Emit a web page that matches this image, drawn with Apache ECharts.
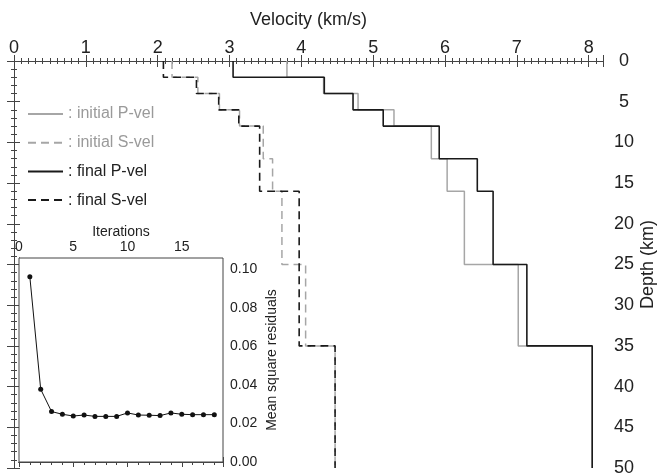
<!DOCTYPE html>
<html>
<head>
<meta charset="utf-8">
<script src="https://cdn.jsdelivr.net/npm/echarts@6/dist/echarts.min.js"></script>
<style>
  html, body { margin: 0; padding: 0; background: #fff; }
  #chart { width: 662px; height: 476px; }
</style>
</head>
<body>
<div id="chart"></div>
<script>
// layer boundaries, km
var depthBounds = [0, 2, 4, 6, 8, 12, 16, 25, 35, 50];
// velocity of each layer, km/s
var initialP = [3.80, 4.31, 4.79, 5.29, 5.81, 6.03, 6.27, 7.02, 8.05];
var finalP = [3.05, 4.32, 4.72, 5.14, 5.92, 6.45, 6.67, 7.14, 8.05];
var initialS = [2.20, 2.56, 2.86, 3.14, 3.47, 3.60, 3.73, 4.06, 4.47];
var finalS = [2.08, 2.54, 2.85, 3.13, 3.42, 3.42, 3.97, 3.97, 4.47];

// inset: misfit per iteration
var iterations = [1, 2, 3, 4, 5, 6, 7, 8, 9, 10, 11, 12, 13, 14, 15, 16, 17, 18];
var residuals = [0.0962, 0.0378, 0.0262, 0.0248, 0.0239, 0.0244, 0.0237, 0.0237, 0.0237,
  0.0255, 0.0244, 0.0243, 0.0241, 0.0255, 0.0248, 0.0246, 0.0246, 0.0246];

var legendNames = ['initial P-vel', 'initial S-vel', 'final P-vel', 'final S-vel'];

var font = 'Liberation Sans, Arial, Helvetica, sans-serif';
var axisColor = '#444';
var gray = '#a6a6a6';
var black = '#1a1a1a';

function profile(vel) {
  var pts = [];
  for (var i = 0; i < vel.length; i++) {
    pts.push([vel[i], depthBounds[i]]);
    pts.push([vel[i], depthBounds[i + 1]]);
  }
  return pts;
}

// plain value axis, only ticks unless overridden
function axis(grid, pos, min, max, interval, tickLen, extra) {
  var a = {
    type: 'value',
    gridIndex: grid,
    position: pos,
    min: min,
    max: max,
    interval: interval,
    splitLine: {show: false},
    axisLine: {show: true, lineStyle: {color: axisColor, width: 1}},
    axisTick: {show: true, inside: true, length: tickLen, lineStyle: {color: axisColor, width: 1}},
    axisLabel: {show: false}
  };
  return Object.assign(a, extra || {});
}

var chart = echarts.init(document.getElementById('chart'));

var option = {
  animation: false,
  backgroundColor: '#fff',
  textStyle: {fontFamily: font},
  grid: [
    {left: 14, right: 59, top: 61, bottom: 8, outerBoundsMode: 'none', containLabel: false},
    {left: 19, right: 439, top: 258, bottom: 14, show: true, backgroundColor: '#fff',
      borderColor: axisColor, borderWidth: 1, z: 3, outerBoundsMode: 'none', containLabel: false}
  ],
  legend: {
    orient: 'vertical',
    left: 22,
    top: 101,
    itemWidth: 35,
    itemHeight: 16,
    itemGap: 12.7,
    itemStyle: {opacity: 0},
    formatter: function (n) { return ': ' + n; },
    textStyle: {fontSize: 16, fontFamily: font},
    data: [
      {name: legendNames[0], textStyle: {color: '#9a9a9a'}},
      {name: legendNames[1], textStyle: {color: '#9a9a9a'}},
      {name: legendNames[2], textStyle: {color: '#222'}},
      {name: legendNames[3], textStyle: {color: '#222'}}
    ]
  },
  xAxis: [
    axis(0, 'top', 0, 8.2, 1, 6, {
      name: 'Velocity (km/s)', nameLocation: 'middle', nameGap: 32,
      nameTextStyle: {fontSize: 18, color: '#222', fontFamily: font},
      axisLabel: {show: true, fontSize: 18, color: '#222', margin: 4, fontFamily: font,
        formatter: function (v) { return Math.abs(v - Math.round(v)) < 1e-6 ? String(Math.round(v)) : ''; }}
    }),
    axis(0, 'top', 0, 8.2, 0.1, 3),
    axis(0, 'bottom', 0, 8.2, 1, 6),
    axis(0, 'bottom', 0, 8.2, 0.1, 3),
    axis(1, 'top', 0, 18.8, 5, 5, {
      name: 'Iterations', nameLocation: 'middle', nameGap: 19,
      nameTextStyle: {fontSize: 14, color: '#222', fontFamily: font},
      axisLabel: {show: true, fontSize: 14, color: '#222', margin: 4, fontFamily: font,
        formatter: function (v) { return v % 5 === 0 ? String(v) : ''; }}
    }),
    axis(1, 'top', 0, 18.8, 1, 3),
    axis(1, 'bottom', 0, 18.8, 5, 5),
    axis(1, 'bottom', 0, 18.8, 1, 3)
  ],
  yAxis: [
    axis(0, 'right', 0, 50, 5, 7, {
      inverse: true,
      name: 'Depth (km)', nameLocation: 'middle', nameGap: 36, nameRotate: 90,
      nameMoveOverlap: false,
      nameTextStyle: {fontSize: 18, color: '#222', fontFamily: font},
      axisLabel: {show: true, fontSize: 18, color: '#222', margin: 21, align: 'center', fontFamily: font}
    }),
    axis(0, 'right', 0, 50, 1, 3, {inverse: true}),
    axis(0, 'left', 0, 50, 5, 6, {inverse: true}),
    axis(0, 'left', 0, 50, 1, 3, {inverse: true}),
    axis(1, 'right', 0, 0.106, 0.02, 5, {
      name: 'Mean square residuals', nameLocation: 'middle', nameGap: 42, nameRotate: 90,
      nameTextStyle: {fontSize: 14, color: '#222', fontFamily: font},
      axisTick: {show: true, inside: false, length: 5, lineStyle: {color: axisColor}},
      axisLabel: {show: true, fontSize: 14, color: '#222', margin: 7, fontFamily: font,
        formatter: function (v) { return Math.abs(v * 50 - Math.round(v * 50)) < 1e-6 ? v.toFixed(2) : ''; }}
    }),
    axis(1, 'right', 0, 0.106, 0.01, 3, {
      axisTick: {show: true, inside: false, length: 3, lineStyle: {color: axisColor}}
    })
  ],
  series: [
    {
      name: legendNames[0], type: 'line', xAxisIndex: 0, yAxisIndex: 0,
      data: profile(initialP), symbol: 'none', color: gray,
      lineStyle: {color: gray, width: 1.5}
    },
    {
      name: legendNames[1], type: 'line', xAxisIndex: 0, yAxisIndex: 0,
      data: profile(initialS), symbol: 'none', color: gray,
      lineStyle: {color: gray, width: 1.5, type: [8, 5]}
    },
    {
      name: legendNames[2], type: 'line', xAxisIndex: 0, yAxisIndex: 0,
      data: profile(finalP), symbol: 'none', color: black,
      lineStyle: {color: black, width: 1.6}
    },
    {
      name: legendNames[3], type: 'line', xAxisIndex: 0, yAxisIndex: 0,
      data: profile(finalS), symbol: 'none', color: black,
      lineStyle: {color: black, width: 1.6, type: [8, 5]}
    },
    {
      name: 'misfit', type: 'line', xAxisIndex: 4, yAxisIndex: 4, z: 5,
      data: iterations.map(function (it, i) { return [it, residuals[i]]; }),
      symbol: 'circle', symbolSize: 5, color: '#111',
      itemStyle: {color: '#111'},
      lineStyle: {color: '#111', width: 1}
    }
  ]
};

chart.setOption(option);
</script>
</body>
</html>
